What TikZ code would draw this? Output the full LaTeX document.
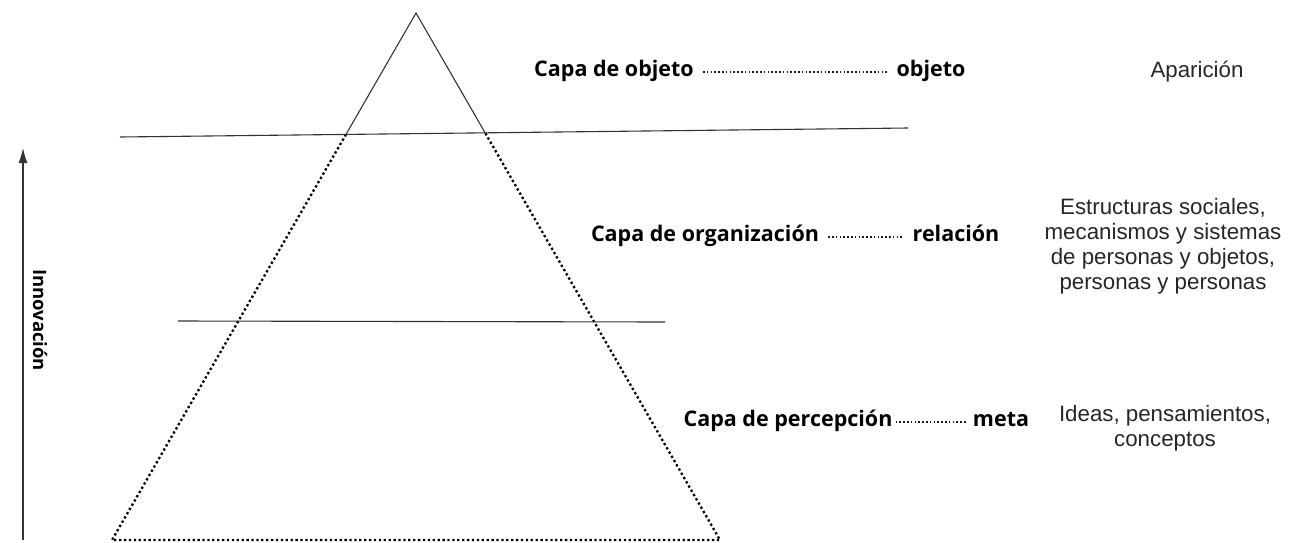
\documentclass[tikz,border=0pt]{standalone}
\usepackage{fontspec}
\setmainfont{Open Sans}
\newfontfamily\descfont{Liberation Sans}
\usepackage{tikz}
\usetikzlibrary{arrows.meta,calc,positioning}

\begin{document}
\begin{tikzpicture}[x=1pt,y=-1pt,
  edge/.style={line width=1.1pt,black!80},
  dotline/.style={line width=2.3pt,black,dash pattern=on 2.3pt off 2.6pt},
  leader/.style={line width=1.6pt,black!90,dash pattern=on 1.6pt off 2.2pt,shorten <=9pt,shorten >=9pt},
  layer/.style={font=\fontsize{21.5}{24}\selectfont\bfseries,inner sep=0pt,text height=15pt,text depth=6pt},
  desc/.style={font=\descfont\fontsize{22.3}{25}\selectfont,text=black!85,align=center,inner sep=0pt}]
\useasboundingbox (0,0) rectangle (1299,542);
% pyramid
\coordinate (T) at (416,13);
\coordinate (L) at (112,540);
\coordinate (R) at (720,540);
% layer borders
\coordinate (A1) at (120,137);
\coordinate (A2) at (908,128);
\coordinate (B1) at (178,321);
\coordinate (B2) at (665,322);
\coordinate (P) at (intersection of T--L and A1--A2);
\coordinate (Q) at (intersection of T--R and A1--A2);
\draw[edge] (P) -- (T) -- (Q);
\draw[dotline] (P) -- (L) -- (R) -- (Q);
\draw[edge] (A1) -- (A2);
\draw[edge] (B1) -- (B2);
% innovation axis
\coordinate (I0) at (23,540);
\coordinate (I1) at (23,148);
\draw[edge,-{Latex[length=15pt,width=9pt]}] (I0) -- (I1);
\node[font=\fontsize{18.5}{20}\selectfont\bfseries,rotate=-90] (innov) at (40,320) {Innovación};
% layers
\node[layer] (obj) at (614,72) {Capa de objeto};
\node[layer] (objw) at (931,72) {objeto};
\draw[leader] (obj.east) -- (objw.west);
\node[layer] (org) at (705,237) {Capa de organización};
\node[layer] (rel) at (956,237) {relación};
\draw[leader] (org.east) -- (rel.west);
\node[layer] (per) at (788,422) {Capa de percepción};
\node[layer] (meta) at (1001,422) {meta};
\draw[leader,shorten <=3pt,shorten >=6pt] (per.east) -- (meta.west);
% descriptions
\node[desc] (apar) at (1197,72) {Aparición};
\node[desc] (soc) at (1163,246) {Estructuras sociales,\\mecanismos y sistemas\\de personas y objetos,\\personas y personas};
\node[desc] (ideas) at (1165,428) {Ideas, pensamientos,\\conceptos};
\end{tikzpicture}
\end{document}
